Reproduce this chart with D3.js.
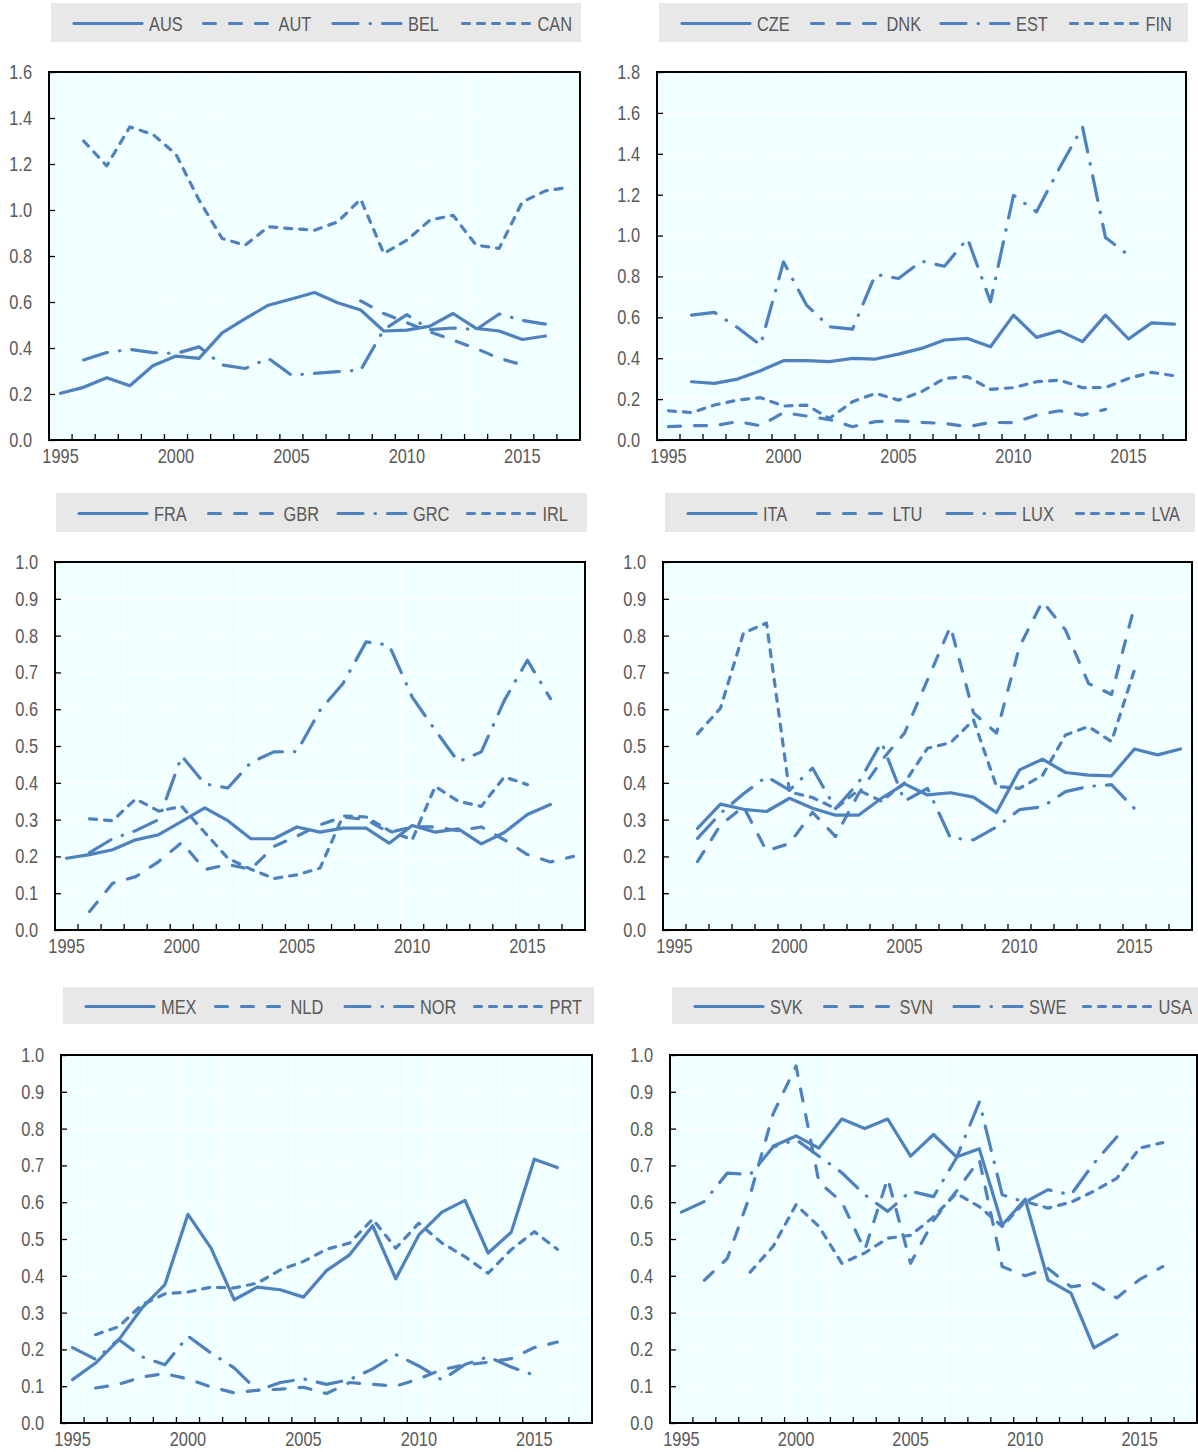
<!DOCTYPE html>
<html>
<head>
<meta charset="utf-8">
<script src="https://cdn.jsdelivr.net/npm/d3@7"></script>
<style>
  body { margin: 0; background: #fff; }
  svg text { font-family: "Liberation Sans", Arial, sans-serif; fill: #595959; }
</style>
</head>
<body>
<div id="chart"></div>
<script>
var years = d3.range(1995, 2018);
var xLabels = [1995, 2000, 2005, 2010, 2015];

// panel 1
var AUS = [0.203,0.229,0.271,0.236,0.323,0.365,0.355,0.466,0.528,0.586,0.613,0.641,0.597,0.565,0.474,0.478,0.495,0.550,0.485,0.474,0.437,0.452,null];
var AUT = [null,null,null,null,null,null,null,null,null,null,null,null,null,0.605,0.55,0.51,0.47,0.434,0.398,0.355,0.327,null,null];
var BEL = [null,0.348,0.38,0.394,0.38,0.376,0.405,0.326,0.311,0.355,0.282,0.29,0.297,0.304,0.48,0.545,0.48,0.487,0.48,0.548,0.52,0.504,null];
var CAN = [null,1.30,1.192,1.361,1.329,1.242,1.043,0.876,0.847,0.927,0.919,0.912,0.948,1.047,0.811,0.869,0.956,0.977,0.847,0.833,1.035,1.083,1.098];
// panel 2
var CZE = [null,0.285,0.277,0.298,0.339,0.388,0.388,0.383,0.399,0.396,0.42,0.448,0.489,0.497,0.456,0.611,0.502,0.534,0.481,0.611,0.494,0.573,0.567];
var DNK = [0.065,0.07,0.07,0.09,0.07,0.134,0.117,0.10,0.065,0.09,0.094,0.086,0.081,0.065,0.086,0.085,0.122,0.143,0.122,0.15,null,null,null];
var EST = [null,0.611,0.624,0.55,0.464,0.871,0.66,0.554,0.542,0.81,0.79,0.875,0.85,0.986,0.676,1.197,1.116,1.33,1.531,0.99,0.904,null,null];
var FIN = [0.143,0.134,0.171,0.195,0.207,0.166,0.171,0.106,0.187,0.228,0.195,0.236,0.301,0.31,0.248,0.256,0.285,0.293,0.256,0.257,0.301,0.331,0.314];
// panel 3
var FRA = [0.195,0.205,0.218,0.245,0.259,0.295,0.332,0.297,0.248,0.248,0.28,0.266,0.277,0.277,0.236,0.284,0.266,0.275,0.234,0.265,0.314,0.341,null];
var GBR = [null,0.05,0.127,0.145,0.186,0.238,0.164,0.178,0.165,0.227,0.255,0.286,0.307,0.30,0.265,0.28,0.28,0.27,0.28,0.245,0.205,0.185,0.2];
var GRC = [null,0.21,0.248,0.27,0.30,0.473,0.397,0.386,0.455,0.484,0.485,0.597,0.67,0.783,0.774,0.633,0.543,0.457,0.484,0.624,0.733,0.629,null];
var IRL = [null,0.302,0.297,0.356,0.323,0.336,0.265,0.195,0.165,0.14,0.15,0.168,0.31,0.307,0.27,0.245,0.39,0.35,0.336,0.416,0.395,null,null];
// panel 4
var ITA = [null,0.276,0.342,0.328,0.322,0.358,0.331,0.312,0.312,0.358,0.397,0.367,0.373,0.361,0.319,0.435,0.464,0.428,0.421,0.419,0.492,0.476,0.492];
var LTU = [null,0.186,0.285,0.335,0.215,0.235,0.32,0.254,0.37,0.46,0.535,0.68,0.825,0.59,0.535,0.77,0.893,0.815,0.67,0.64,0.88,null,null];
var LUX = [null,0.249,0.317,0.37,0.417,0.38,0.44,0.33,0.40,0.51,0.35,0.385,0.25,0.245,0.28,0.327,0.335,0.376,0.39,0.395,0.33,null,null];
var LVA = [null,0.533,0.603,0.807,0.834,0.375,0.36,0.33,0.38,0.35,0.40,0.494,0.509,0.571,0.39,0.385,0.42,0.53,0.553,0.512,0.707,null,null];
// panel 5
var MEX = [0.118,0.163,0.226,0.312,0.376,0.567,0.475,0.335,0.369,0.362,0.342,0.414,0.457,0.536,0.392,0.511,0.573,0.605,0.462,0.518,0.717,0.694,null];
var NLD = [null,0.095,0.105,0.125,0.134,0.12,0.098,0.082,0.089,0.092,0.097,0.08,0.11,0.105,0.10,0.12,0.145,0.158,0.165,0.175,0.205,0.22,null];
var NOR = [0.205,0.173,0.227,0.18,0.158,0.236,0.19,0.15,0.088,0.11,0.12,0.105,0.118,0.147,0.186,0.155,0.117,0.159,0.18,0.152,0.13,null,null];
var PRT = [null,0.24,0.262,0.321,0.351,0.356,0.369,0.367,0.38,0.416,0.439,0.472,0.489,0.554,0.475,0.543,0.489,0.452,0.407,0.471,0.52,0.472,null];
// panel 6
var SVK = [null,null,null,null,0.752,0.78,0.747,0.826,0.80,0.826,0.725,0.784,0.723,0.745,0.538,0.608,0.388,0.353,0.204,0.24,null,null,null];
var SVN = [null,0.388,0.447,0.62,0.84,0.97,0.655,0.60,0.47,0.665,0.434,0.55,0.63,0.715,0.425,0.40,0.42,0.37,0.379,0.34,0.39,0.425,null];
var SWE = [0.573,0.602,0.679,0.675,0.75,0.77,0.725,0.68,0.62,0.575,0.63,0.615,0.72,0.872,0.62,0.60,0.634,0.62,0.706,0.777,null,null,null];
var USA = [null,null,null,0.41,0.48,0.593,0.534,0.434,0.462,0.502,0.51,0.56,0.624,0.588,0.534,0.602,0.584,0.60,0.63,0.665,0.747,0.762,null];

var yTicks16 = d3.range(0, 1.61, 0.2);
var yTicks18 = d3.range(0, 1.81, 0.2);
var yTicks10 = d3.range(0, 1.01, 0.1);

// dash styles: solid, dash, long dash-dot, short dash
var dashes = [null, "12,14", "25,12,0.5,12", "7,8"];
var blue = "#4f81bd";
var sx = 0.82; // narrow the text like Arial Narrow

var panels = [
  {names: ["AUS","AUT","BEL","CAN"], data: [AUS,AUT,BEL,CAN], ticks: yTicks16, l: 49, r: 580, t: 72, b: 440, lx: 51, lw: 530, ly: 3, lh: 39},
  {names: ["CZE","DNK","EST","FIN"], data: [CZE,DNK,EST,FIN], ticks: yTicks18, l: 657, r: 1186, t: 72, b: 440, lx: 659, lw: 529, ly: 3, lh: 39},
  {names: ["FRA","GBR","GRC","IRL"], data: [FRA,GBR,GRC,IRL], ticks: yTicks10, l: 55, r: 585, t: 562, b: 930, lx: 56, lw: 531, ly: 493, lh: 39},
  {names: ["ITA","LTU","LUX","LVA"], data: [ITA,LTU,LUX,LVA], ticks: yTicks10, l: 663, r: 1192, t: 562, b: 930, lx: 665, lw: 530, ly: 493, lh: 39},
  {names: ["MEX","NLD","NOR","PRT"], data: [MEX,NLD,NOR,PRT], ticks: yTicks10, l: 61, r: 592, t: 1055, b: 1423, lx: 63, lw: 531, ly: 987, lh: 37},
  {names: ["SVK","SVN","SWE","USA"], data: [SVK,SVN,SWE,USA], ticks: yTicks10, l: 670, r: 1197, t: 1055, b: 1423, lx: 672, lw: 530, ly: 987, lh: 37}
];

var svg = d3.select("#chart").append("svg")
  .attr("width", 1198)
  .attr("height", 1452);

panels.forEach(function(p) {
  var g = svg.append("g");
  var yMax = p.ticks[p.ticks.length - 1];

  var xScale = d3.scaleBand().domain(years).range([p.l, p.r]);
  var bw = xScale.bandwidth();
  var yScale = d3.scaleLinear().domain([0, yMax]).range([p.b, p.t]);

  // legend
  g.append("rect")
    .attr("x", p.lx).attr("y", p.ly)
    .attr("width", p.lw).attr("height", p.lh)
    .attr("fill", "#e8e8e8");
  p.names.forEach(function(name, i) {
    var x0 = p.lx + 23 + i * 129.5;
    var cy = p.ly + p.lh / 2 + 1;
    g.append("line")
      .attr("x1", x0).attr("x2", x0 + 68)
      .attr("y1", cy).attr("y2", cy)
      .attr("stroke", blue).attr("stroke-width", 3.2)
      .attr("stroke-linecap", "round")
      .attr("stroke-dasharray", dashes[i]);
    g.append("text")
      .attr("x", (x0 + 75) / sx).attr("y", cy)
      .attr("dy", "0.36em")
      .attr("transform", "scale(" + sx + ",1)")
      .style("font-size", "20px")
      .text(name);
  });

  // plot background and grid
  g.append("rect")
    .attr("x", p.l).attr("y", p.t)
    .attr("width", p.r - p.l).attr("height", p.b - p.t)
    .attr("fill", "#f0ffff");

  g.selectAll(".hgrid").data(p.ticks.slice(1, -1)).enter()
    .append("line")
    .attr("x1", p.l).attr("x2", p.r)
    .attr("y1", function(d) { return yScale(d); })
    .attr("y2", function(d) { return yScale(d); })
    .attr("stroke", "#fff").attr("stroke-width", 1.2);

  g.selectAll(".vgrid").data(years.slice(1)).enter()
    .append("line")
    .attr("x1", function(d) { return xScale(d); })
    .attr("x2", function(d) { return xScale(d); })
    .attr("y1", p.t).attr("y2", p.b)
    .attr("stroke", "#fff").attr("stroke-width", 1.2);

  // x tick marks between categories, pointing inside
  g.selectAll(".xtick").data(years.slice(1)).enter()
    .append("line")
    .attr("x1", function(d) { return xScale(d); })
    .attr("x2", function(d) { return xScale(d); })
    .attr("y1", p.b).attr("y2", p.b - 6)
    .attr("stroke", "#000").attr("stroke-width", 1.3);

  // y axis
  var yAxis = d3.axisLeft(yScale)
    .tickValues(p.ticks)
    .tickSize(-6)
    .tickPadding(17)
    .tickFormat(d3.format(".1f"));
  var yAxisGroup = g.append("g")
    .attr("transform", "translate(" + p.l + ",0)")
    .call(yAxis);
  yAxisGroup.select(".domain").remove();
  yAxisGroup.selectAll(".tick line").attr("stroke", "#000").attr("stroke-width", 1.3);
  yAxisGroup.selectAll(".tick text")
    .attr("x", -17 / sx)
    .attr("transform", "scale(" + sx + ",1)")
    .style("font-size", "20px")
    .attr("fill", "#595959");

  // x axis labels
  var xAxis = d3.axisBottom(xScale)
    .tickValues(xLabels)
    .tickSize(0)
    .tickPadding(9);
  var xAxisGroup = g.append("g")
    .attr("transform", "translate(0," + p.b + ")")
    .call(xAxis);
  xAxisGroup.select(".domain").remove();
  xAxisGroup.selectAll(".tick text")
    .attr("transform", "scale(" + sx + ",1)")
    .style("font-size", "20px")
    .attr("fill", "#595959");

  // series
  var line = d3.line()
    .defined(function(d) { return d.v != null; })
    .x(function(d) { return xScale(d.year) + bw / 2; })
    .y(function(d) { return yScale(d.v); });

  p.data.forEach(function(series, i) {
    var pts = years.map(function(yr, k) { return {year: yr, v: series[k]}; });
    g.append("path")
      .datum(pts)
      .attr("d", line)
      .attr("fill", "none")
      .attr("stroke", blue)
      .attr("stroke-width", 3.2)
      .attr("stroke-linejoin", "round")
      .attr("stroke-linecap", "round")
      .attr("stroke-dasharray", dashes[i]);
  });

  // plot border
  g.append("rect")
    .attr("x", p.l).attr("y", p.t)
    .attr("width", p.r - p.l).attr("height", p.b - p.t)
    .attr("fill", "none")
    .attr("stroke", "#000").attr("stroke-width", 2);
});
</script>
</body>
</html>
